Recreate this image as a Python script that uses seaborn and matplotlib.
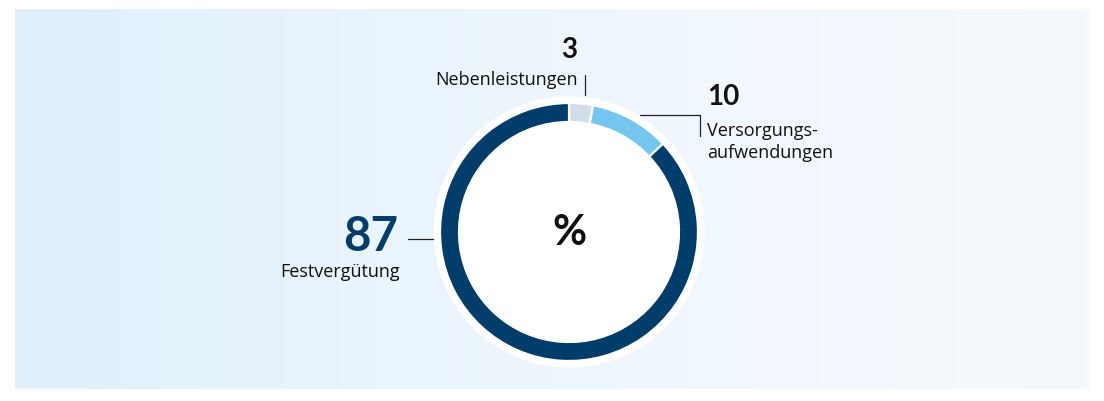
import numpy as np
import matplotlib
matplotlib.use("Agg")
import matplotlib.pyplot as plt
import seaborn as sns
from matplotlib.patches import Circle
from matplotlib.colors import LinearSegmentedColormap

# Vergütungsbestandteile in Prozent
categories = ["Nebenleistungen", "Versorgungs-\naufwendungen", "Festvergütung"]
shares = [3, 10, 87]
share_labels = ["3", "10", "87"]

sns.set_theme(style="white")
plt.rcParams["font.family"] = ["Lato", "DejaVu Sans"]
label_font = ["Open Sans", "DejaVu Sans"]

palette = sns.color_palette(["#D3DDEA", "#74C6EE", "#003D6A"])
W, H = 1104, 402

fig = plt.figure(figsize=(W / 100, H / 100), dpi=100)
ax = fig.add_axes([0, 0, 1, 1])
ax.set_xlim(0, W)
ax.set_ylim(0, H)
ax.set_aspect("equal")
ax.axis("off")


def Y(y):
    return H - y


# Hintergrundfläche mit horizontalem Verlauf
grad = LinearSegmentedColormap.from_list("bg", ["#DFF0FB", "#EEF6FD", "#F6FAFE"])
ax.imshow(np.linspace(0, 1, 256)[None, :], cmap=grad, aspect="auto",
          extent=(15, 1090, Y(390), Y(10)), zorder=0)

cx, cy, r = 569, Y(233), 129
ax.add_patch(Circle((cx, cy), r + 6, color="white", zorder=1))

wedges, _ = ax.pie(shares, colors=palette, startangle=90, counterclock=False,
                   center=(cx, cy), radius=r, frame=True,
                   wedgeprops=dict(width=19, edgecolor="white", linewidth=1.6))
for w in wedges:
    w.set_zorder(2)
ax.set_xlim(0, W)
ax.set_ylim(0, H)
ax.axis("off")

ax.text(cx + 0.5, Y(233.5), "%", ha="center", va="center", fontsize=30,
        fontweight="bold", color="#111111", zorder=3)

line_kw = dict(color="#222222", lw=0.9, zorder=3)
dark = "#111111"
lab_kw = dict(fontsize=13, color=dark, family=label_font)
num_kw = dict(fontsize=20, fontweight="bold", color=dark)

# Nebenleistungen
ax.text(569.5, Y(49.5), share_labels[0], ha="center", va="center", **num_kw)
ax.text(578, Y(80), categories[0], ha="right", va="center", **lab_kw)
ax.plot([585, 585], [Y(76), Y(96)], **line_kw)

# Versorgungsaufwendungen
ax.plot([640, 700, 700], [Y(116), Y(116), Y(137)], **line_kw)
ax.text(707, Y(97), share_labels[1], ha="left", va="center", **num_kw)
ax.text(707, Y(142), categories[1], ha="left", va="center",
        linespacing=1.25, **lab_kw)

# Festvergütung
ax.plot([408, 433], [Y(240), Y(240)], **line_kw)
ax.text(398, Y(237.5), share_labels[2], ha="right", va="center", fontsize=34,
        fontweight="bold", color="#003D6A")
ax.text(400, Y(272), categories[2], ha="right", va="center", **lab_kw)

fig.savefig("out.png", dpi=100, facecolor="white")
